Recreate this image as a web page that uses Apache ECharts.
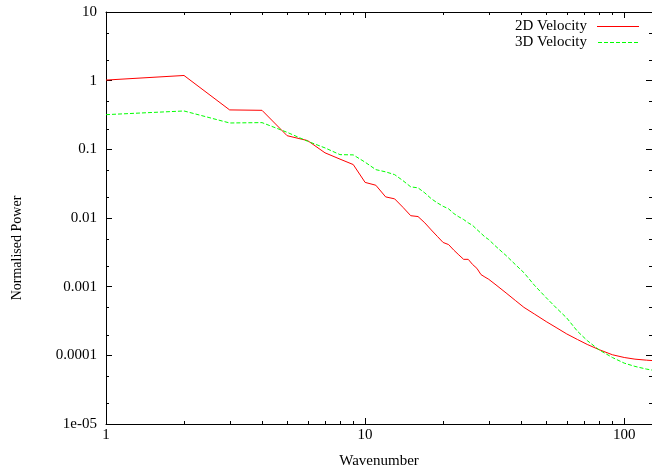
<!DOCTYPE html>
<html><head><meta charset="utf-8">
<script src="https://cdn.jsdelivr.net/npm/echarts@6/dist/echarts.min.js"></script>
<style>html,body{margin:0;padding:0;background:#fff}#c{width:652px;height:476px}</style>
</head><body><div id="c"></div>
<script>
const wavenumber = [1,2,3,4,5,6,7,8,9,10,11,12,13,14,15,16,17,18,19,20,21,22,23,24,25,26,27,28,29,30,32,35,38,41,45,50,55,60,66,72,80,90,100,110,122,128];
const velocity2D = [1.02,1.19,0.375,0.37,0.158,0.134,0.089,0.072,0.060,0.033,0.030,0.0203,0.019,0.0143,0.0108,0.0105,0.0085,0.0067,0.0054,0.0044,0.0041,0.0034,0.0029,0.0025,0.0025,0.0021,0.00185,0.0015,0.00138,0.00128,0.00106,0.00081,0.00063,0.00050,0.00040,0.00031,0.00025,0.000205,0.000170,0.000144,0.000121,0.000102,0.000093,0.000088,0.000085,0.000084];
const velocity3D = [0.32,0.362,0.242,0.245,0.177,0.131,0.105,0.0837,0.083,0.065,0.0506,0.047,0.0428,0.035,0.0284,0.0275,0.0232,0.0191,0.0166,0.0148,0.0136,0.0116,0.0104,0.0095,0.0085,0.0078,0.0068,0.006,0.0053,0.00485,0.00384,0.00284,0.0021,0.0016,0.00105,0.00069,0.00048,0.00035,0.000224,0.000164,0.00012,0.000093,0.000077,0.000069,0.000063,0.000061];
const seriesNames = ['2D Velocity','3D Velocity'];
const xRange = [1, 128];
const yRange = [1e-5, 10];
const xTickLabels = {'0':'1','1':'10','2':'100'};
const yTickLabels = {'-5':'1e-05','-4':'0.0001','-3':'0.001','-2':'0.01','-1':'0.1','0':'1','1':'10'};
const xMinorTicks = [2,3,4,5,6,7,8,9,20,30,40,50,60,70,80,90];
const yMinorTicks = [2e-5,5e-5,2e-4,5e-4,2e-3,5e-3,0.02,0.05,0.2,0.5,2,5];

const FONT = 'Liberation Serif';
const RED = '#ff0000', GREEN = '#00ff00', DASH = [4, 2];
const DASH_ICON = 'path://M0,0h4v1h-4z M6,0h4v1h-4z M12,0h4v1h-4z M18,0h4v1h-4z M24,0h4v1h-4z M30,0h4v1h-4z M36,0h4v1h-4z';
const chart = echarts.init(document.getElementById('c'), null, {renderer:'canvas'});
const exp = v => String(Math.round(Math.log10(v)));

function minorTicks(values, dir) {
  return {
    type: 'custom', coordinateSystem: 'cartesian2d', silent: true, clip: false, z: 5,
    data: values.map(v => dir === 'x' ? [v, yRange[0]] : [xRange[0], v]),
    renderItem: (params, api) => {
      const st = {stroke: '#000', lineWidth: 1};
      if (dir === 'x') {
        const v = api.value(0);
        const b = api.coord([v, yRange[0]]), t = api.coord([v, yRange[1]]);
        const x = Math.round(b[0]) + 0.5;
        return {type: 'group', children: [
          {type: 'line', shape: {x1: x, y1: b[1], x2: x, y2: b[1] - 3}, style: st},
          {type: 'line', shape: {x1: x, y1: t[1], x2: x, y2: t[1] + 3}, style: st}
        ]};
      } else {
        const v = api.value(1);
        const l = api.coord([xRange[0], v]), r = api.coord([xRange[1], v]);
        const y = Math.round(l[1]) + 0.5;
        return {type: 'group', children: [
          {type: 'line', shape: {x1: l[0], y1: y, x2: l[0] + 3, y2: y}, style: st},
          {type: 'line', shape: {x1: r[0], y1: y, x2: r[0] - 3, y2: y}, style: st}
        ]};
      }
    }
  };
}

const axisCommon = {
  type: 'log', logBase: 10,
  axisLine: {show: true, onZero: false, lineStyle: {color: '#000', width: 1}},
  axisTick: {show: true, inside: true, length: 6, lineStyle: {color: '#000', width: 1}},
  splitLine: {show: false},
  minorTick: {show: false}
};

chart.setOption({
  animation: false,
  backgroundColor: '#fff',
  textStyle: {fontFamily: FONT},
  grid: {left: 106, top: 12, right: -5, bottom: 52, containLabel: false},
  legend: {
    data: [
      {name: seriesNames[0], icon: 'rect', itemStyle: {color: RED}},
      {name: seriesNames[1], icon: DASH_ICON, itemStyle: {color: GREEN}}
    ],
    orient: 'vertical', align: 'right',
    right: 13, top: 19, padding: 0,
    itemWidth: 42, itemHeight: 1, itemGap: 1,
    textStyle: {fontFamily: FONT, fontSize: 15, color: '#000', padding: [0, 5, 0, 0]}
  },
  graphic: [{
    type: 'text', x: 17.5, y: 248, rotation: Math.PI / 2,
    style: {text: 'Normalised Power', fontFamily: FONT, fontSize: 14, fill: '#000', align: 'center', verticalAlign: 'middle'}
  }],
  xAxis: [
    Object.assign({}, axisCommon, {
      position: 'bottom', min: xRange[0], max: xRange[1],
      name: 'Wavenumber', nameLocation: 'middle', nameGap: 30,
      nameTextStyle: {fontFamily: FONT, fontSize: 15, color: '#000'},
      axisLabel: {show: true, margin: 4, color: '#000', fontFamily: FONT, fontSize: 15,
        showMaxLabel: false, formatter: v => xTickLabels[exp(v)] || ''}
    }),
    Object.assign({}, axisCommon, {
      position: 'top', min: xRange[0], max: xRange[1], axisLabel: {show: false}
    })
  ],
  yAxis: [
    Object.assign({}, axisCommon, {
      position: 'left', min: yRange[0], max: yRange[1],
      axisLabel: {show: true, margin: 9, color: '#000', fontFamily: FONT, fontSize: 15,
        formatter: v => yTickLabels[exp(v)] || ''}
    }),
    Object.assign({}, axisCommon, {
      position: 'right', min: yRange[0], max: yRange[1], axisLabel: {show: false}
    })
  ],
  series: [
    {
      name: seriesNames[0], type: 'line', symbol: 'none', z: 3,
      data: wavenumber.map((k, i) => [k, velocity2D[i]]),
      lineStyle: {color: RED, width: 1},
      itemStyle: {color: RED}
    },
    {
      name: seriesNames[1], type: 'line', symbol: 'none', z: 3,
      data: wavenumber.map((k, i) => [k, velocity3D[i]]),
      lineStyle: {color: GREEN, width: 1, type: DASH},
      itemStyle: {color: GREEN}
    },
    minorTicks(xMinorTicks, 'x'),
    minorTicks(yMinorTicks, 'y')
  ]
});
</script>
</body></html>
